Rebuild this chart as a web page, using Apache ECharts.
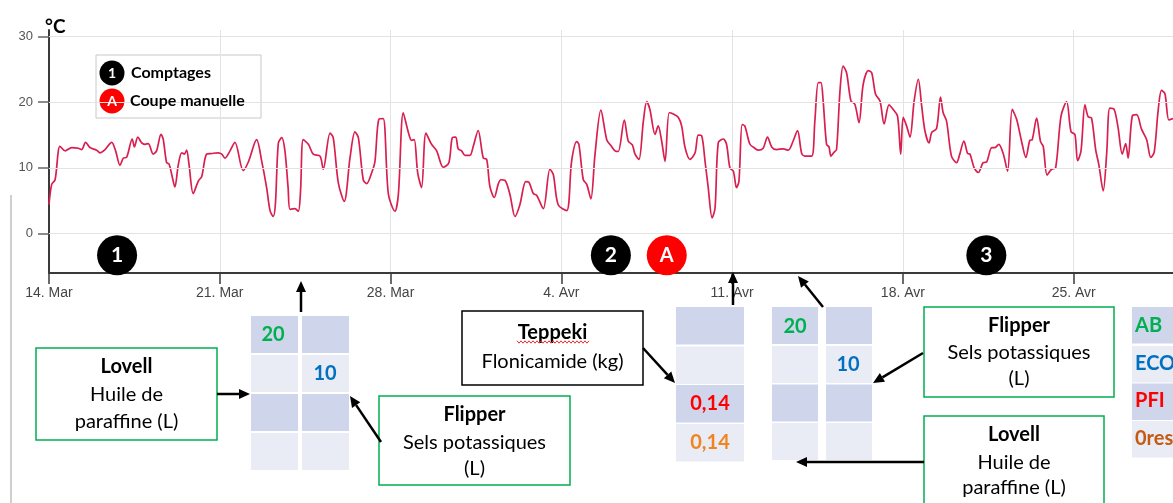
<!DOCTYPE html>
<html style="height: 100%">
<head>
<meta charset="utf-8">
</head>
<body style="height: 100%; width: 100%; margin: 0; background: #fff">
<div id="container" style="height: 503px; width: 1173px;"></div>
<script src="https://cdn.jsdelivr.net/npm/echarts@6/dist/echarts.min.js"></script>
<script type="text/javascript">
// jours depuis le 14 mars
var days = [
	0, 0.11, 0.25, 0.45, 0.66, 0.93, 1.20, 1.34, 1.50, 1.68, 1.95, 2.09, 2.30, 2.57, 2.73, 2.91, 3.05, 3.18, 3.41, 3.50, 3.64, 3.80, 3.93, 4.07, 4.27, 4.41, 4.59, 4.68, 4.82, 4.92, 5.03, 5.16, 5.30, 5.44, 5.55, 5.64, 5.74, 5.91, 6.12, 6.26, 6.46, 6.67, 6.94, 7.08, 7.21, 7.42, 7.62,
	7.96, 8.17, 8.51, 8.72, 8.92, 9.06, 9.19, 9.28, 9.40, 9.54, 9.67, 9.80, 9.88, 10.08, 10.22, 10.31, 10.42, 10.63, 10.83, 11.11, 11.24, 11.52, 11.65, 11.86, 12.10, 12.34, 12.54, 12.68, 12.88, 13.02, 13.23, 13.36, 13.52, 13.70, 13.91, 14.18, 14.32, 14.52, 14.73, 14.86, 14.97, 15.11, 15.27,
	15.45, 15.68, 15.89, 16.16, 16.39, 16.53, 16.67, 16.77, 16.91, 17.05, 17.25, 17.39, 17.59, 17.80, 17.94, 18.07, 18.25, 18.41, 18.52, 18.69, 18.89, 19.10, 19.30, 19.54, 19.67, 19.85, 19.99, 20.26, 20.53, 20.67, 20.87, 21.22, 21.42, 21.63, 21.72, 21.90, 22.04, 22.21, 22.38, 22.62, 22.86, 23.03, 23.20,
	23.33, 23.58, 23.74, 23.91, 24.02, 24.18, 24.36, 24.50, 24.63, 24.84, 24.97, 25.11, 25.25, 25.42, 25.59, 25.79, 25.93, 26.07, 26.27, 26.48, 26.61, 26.75, 26.89, 27.02, 27.18, 27.30, 27.43, 27.64, 27.77, 27.91, 28.05, 28.18, 28.28, 28.41, 28.52, 28.73, 28.93, 29.07, 29.27, 29.45, 29.62, 29.82, 30.09, 30.30, 30.50, 30.68, 30.85, 30.98,
	31.26, 31.39, 31.53, 31.64, 31.73, 31.87, 31.97, 32.05, 32.18, 32.28, 32.42, 32.55, 32.69, 32.87, 33.03, 33.20, 33.37, 33.58, 33.72, 33.88, 34.06, 34.23, 34.43, 34.60, 34.78, 34.91, 35.01, 35.15, 35.29, 35.46, 35.63, 35.77, 35.90, 36.07, 36.18, 36.38, 36.54, 36.65, 36.79, 36.99, 37.20, 37.33, 37.50, 37.65, 37.75, 37.92, 38.09, 38.29, 38.43, 38.64, 38.77,
	38.93, 39.11, 39.29, 39.48, 39.66, 39.86, 40.04, 40.20, 40.30, 40.48, 40.64, 40.75, 40.91, 41.09, 41.26, 41.48, 41.71, 41.89, 42.05, 42.16, 42.30, 42.46, 42.59, 42.73, 42.90, 43.03, 43.21, 43.35, 43.48, 43.66, 43.82, 43.99, 44.13, 44.23, 44.40, 44.58, 44.78, 44.99, 45.16, 45.30, 45.46, 45.60, 45.74, 45.90, 46.07
];
// température °C
var temps = [
	4.4, 7.5, 8.2, 13.3, 12.6, 13.1, 13.0, 12.8, 13.9, 13.1, 12.7, 12.3, 12.8, 13.9, 12.6, 10.4, 11.5, 11.6, 14.4, 13.2, 14.7, 13.8, 13.6, 13.7, 12.1, 12.6, 15.1, 14.4, 10.8, 10.6, 9.0, 7.1, 10.5, 12.3, 12.1, 12.7, 10.5, 6.1, 8.0, 8.7, 12.1, 12.2, 12.3, 12.1, 11.5, 12.6, 13.9,
	9.6, 10.9, 14.3, 11.0, 7.0, 3.5, 2.6, 4.5, 13.8, 14.6, 12.6, 7.0, 3.7, 3.8, 3.4, 6.5, 14.3, 13.6, 12.1, 11.8, 9.8, 15.3, 14.6, 7.7, 4.9, 11.6, 15.5, 14.6, 8.2, 7.6, 9.3, 11.0, 17.4, 17.5, 6.0, 3.4, 6.0, 18.4, 15.4, 14.2, 14.3, 9.3, 7.0,
	15.3, 13.6, 12.6, 10.1, 10.8, 14.6, 14.7, 12.9, 12.6, 11.9, 11.9, 13.3, 15.7, 11.5, 11.3, 7.2, 5.5, 7.5, 8.2, 8.1, 6.0, 2.6, 4.4, 7.9, 7.8, 6.1, 5.8, 3.8, 9.8, 9.0, 4.4, 3.5, 11.0, 14.0, 13.6, 8.2, 7.5, 5.3, 12.1, 18.8, 14.3, 13.4, 12.6,
	12.5, 17.3, 14.1, 13.5, 12.1, 11.3, 17.1, 20.1, 18.9, 15.1, 16.4, 14.1, 11.0, 18.4, 18.2, 17.7, 16.4, 13.1, 11.3, 12.3, 15.0, 14.9, 11.0, 7.0, 2.4, 3.9, 13.8, 14.4, 13.6, 10.0, 9.5, 7.0, 8.0, 16.6, 16.4, 13.6, 13.0, 12.7, 13.0, 14.7, 13.2, 12.8, 12.9, 12.7, 14.1, 15.7, 12.2, 11.8,
	11.8, 17.1, 23.0, 23.0, 20.2, 13.6, 13.2, 11.8, 12.4, 12.8, 21.7, 25.5, 24.5, 20.2, 19.7, 16.9, 22.7, 24.8, 24.5, 21.2, 20.2, 16.7, 19.6, 18.9, 17.9, 12.1, 17.7, 16.4, 14.7, 20.2, 23.5, 19.4, 15.7, 13.8, 15.4, 16.0, 20.8, 18.4, 17.1, 11.8, 10.8, 12.1, 14.1, 12.2, 12.1, 10.0, 9.3, 10.8, 10.9, 13.1, 13.1,
	13.6, 12.2, 9.5, 18.9, 17.4, 14.1, 11.6, 14.2, 14.3, 17.6, 14.0, 13.3, 8.9, 9.8, 10.0, 17.9, 20.1, 15.5, 15.1, 11.1, 12.6, 19.6, 17.8, 17.6, 12.8, 10.5, 6.5, 12.1, 19.1, 18.9, 16.1, 12.1, 13.7, 11.5, 17.9, 18.1, 15.9, 14.3, 11.6, 12.4, 18.7, 21.8, 21.3, 17.3, 17.5
];
var tickLabels = ['14. Mar', '21. Mar', '28. Mar', '4. Avr', '11. Avr', '18. Avr', '25. Avr'];
var yTicks = [0, 10, 20, 30];
// comptages (cercles noirs) et coupe manuelle (cercle rouge)
var countDays = [2.79, 23.03, 38.42];
var countLabels = ['1', '2', '3'];
var cutDays = [25.32];
var cutLabels = ['A'];
var markerLevel = -3.3;

var dom = document.getElementById("container");
var myChart = echarts.init(dom);
var font = 'Lato, "Open Sans", sans-serif';
var green = '#00b050', blue = '#0070c0', red = '#ff0000', orange = '#f0841e', brown = '#c55a11';
var dark = '#cfd5ea', light = '#e9ebf5';
var graphics = [];

function text(x, y, str, size, color, bold, align) {
	graphics.push({
		type: 'text', x: x, y: y, z: 10,
		style: {
			text: str, fill: color || '#000', align: align || 'center', verticalAlign: 'middle',
			font: (bold ? 'bold ' : '') + size + 'px ' + font
		}
	});
}
function box(x, y, w, h, stroke, lines) {
	graphics.push({
		type: 'rect', shape: { x: x, y: y, width: w, height: h },
		style: { fill: '#fff', stroke: stroke, lineWidth: 1.5 }
	});
	for (var i = 0; i < lines.length; i++) {
		text(x + w / 2, lines[i][1], lines[i][0], 20, '#000', i == 0);
	}
}
function arrow(x1, y1, x2, y2) {
	var a = Math.atan2(y2 - y1, x2 - x1), len = 11, half = 5;
	var bx = x2 - len * Math.cos(a), by = y2 - len * Math.sin(a);
	graphics.push({ type: 'line', z: 11, shape: { x1: x1, y1: y1, x2: bx, y2: by }, style: { stroke: '#000', lineWidth: 2.5 } });
	graphics.push({
		type: 'polygon', z: 11,
		shape: { points: [[x2, y2], [bx + half * Math.sin(a), by - half * Math.cos(a)], [bx - half * Math.sin(a), by + half * Math.cos(a)]] },
		style: { fill: '#000' }
	});
}
function table(cols, w, rows, h) {
	for (var c = 0; c < cols.length; c++) {
		for (var r = 0; r < rows.length; r++) {
			graphics.push({
				type: 'rect', shape: { x: cols[c], y: rows[r], width: w, height: h },
				style: { fill: r % 2 == 0 ? dark : light }
			});
		}
	}
}

// cadre gauche
graphics.push({ type: 'line', shape: { x1: 11, y1: 195, x2: 11, y2: 503 }, style: { stroke: '#cfcfcf', lineWidth: 2 } });
// unité
text(45, 27, '°C', 19, '#000', true, 'left');

// légende
graphics.push({ type: 'rect', shape: { x: 96, y: 55, width: 165, height: 63 }, style: { fill: '#fff', stroke: '#c8c8c8', lineWidth: 1 } });
graphics.push({ type: 'circle', shape: { cx: 112, cy: 73, r: 12.5 }, style: { fill: '#000' } });
text(112, 73, '1', 14, '#fff', true);
text(131, 73, 'Comptages', 16, '#000', true, 'left');
graphics.push({ type: 'circle', shape: { cx: 112, cy: 101, r: 12.5 }, style: { fill: red } });
text(112, 101, 'A', 14, '#fff', true);
text(130, 101, 'Coupe manuelle', 16, '#000', true, 'left');

// tableau 1
table([251, 302], 47, [316, 355, 394, 433], 37);
text(273, 335, '20', 20, green, true);
text(325, 374, '10', 20, blue, true);
box(36, 348, 181, 92, green, [['Lovell', 367], ['Huile de', 395], ['paraffine (L)', 422]]);
box(379, 396, 191, 89, green, [['Flipper', 415], ['Sels potassiques', 443], ['(L)', 469]]);
arrow(301, 312, 301, 281);
arrow(217, 394, 250, 394);
arrow(381, 442, 350, 396);

// tableau 2
table([676], 68, [307, 346.5, 385, 424], 37.5);
text(710, 404, '0,14', 20, red, true);
text(710, 443, '0,14', 20, orange, true);
box(462, 311, 181, 74, '#000', [['Teppeki', 333], ['Flonicamide (kg)', 362]]);
var squiggle = [];
for (var sx = 517; sx <= 589; sx += 2) squiggle.push([sx, 342 + ((sx - 517) % 4 == 0 ? -1.2 : 1.2)]);
graphics.push({ type: 'polyline', z: 12, shape: { points: squiggle }, style: { stroke: '#e03030', lineWidth: 1 } });
arrow(643, 348, 675, 383);
arrow(733, 305, 733, 272);

// tableau 3
table([772, 826], 46, [307, 346, 384.5, 423], 37);
text(795, 327, '20', 20, green, true);
text(848, 365, '10', 20, blue, true);
box(924, 307, 190, 90, green, [['Flipper', 326], ['Sels potassiques', 353], ['(L)', 379]]);
box(924, 416, 180, 100, green, [['Lovell', 435], ['Huile de', 463], ['paraffine (L)', 488]]);
arrow(823, 307, 798, 276);
arrow(923, 353, 873, 383);
arrow(924, 462, 796, 462);

// légende des modes
table([1132], 60, [307, 346, 383.5, 421], 36.5);
text(1135, 326, 'AB', 20, green, true, 'left');
text(1135, 364, 'ECO', 20, blue, true, 'left');
text(1135, 401, 'PFI', 20, red, true, 'left');
text(1135, 439, '0res', 20, brown, true, 'left');

var lineData = [];
for (var i = 0; i < days.length; i++) lineData.push([days[i], temps[i]]);
var countData = [], cutData = [];
for (var i = 0; i < countDays.length; i++) countData.push({ value: [countDays[i], markerLevel], label: { formatter: countLabels[i] } });
for (var i = 0; i < cutDays.length; i++) cutData.push({ value: [cutDays[i], markerLevel], label: { formatter: cutLabels[i] } });
var gridLines = [];
for (var i = 0; i < yTicks.length; i++) gridLines.push({ yAxis: yTicks[i] });

option = {
	animation: false,
	backgroundColor: '#fff',
	grid: { left: 49, right: 0, top: 30, bottom: 230, containLabel: false },
	xAxis: {
		type: 'value', min: 0, max: 46.07, interval: 7,
		axisLine: { show: true, onZero: false, lineStyle: { color: '#3a3a3a', width: 2 } },
		axisTick: { show: true, inside: false, length: 11, lineStyle: { color: '#3a3a3a', width: 1.5 } },
		axisLabel: {
			show: true, margin: 13, showMaxLabel: false, color: '#444', fontSize: 14, fontFamily: '"Liberation Sans", Arial, sans-serif',
			formatter: function (v) { return tickLabels[Math.round(v / 7)] || ''; }
		},
		splitLine: { show: true, lineStyle: { color: '#e3e3e3', width: 1 } }
	},
	yAxis: {
		type: 'value', min: -6, max: 31,
		axisLine: { show: true, onZero: false, lineStyle: { color: '#3a3a3a', width: 2 } },
		axisTick: { show: true, length: 11, customValues: yTicks, lineStyle: { color: '#666', width: 1.5 } },
		axisLabel: { show: true, margin: 16, customValues: yTicks, color: '#555', fontSize: 13, fontFamily: '"Liberation Sans", Arial, sans-serif' },
		splitLine: { show: false }
	},
	graphic: graphics,
	series: [{
		type: 'line', data: [], z: 1, silent: true,
		markLine: {
			silent: true, symbol: 'none', animation: false, label: { show: false },
			lineStyle: { color: '#e3e3e3', width: 1, type: 'solid' },
			data: gridLines
		}
	}, {
		type: 'line', data: lineData, z: 3,
		smooth: 0.3, showSymbol: false,
		lineStyle: { color: '#d81f4f', width: 1.7 }
	}, {
		type: 'scatter', data: countData, z: 4, symbolSize: 40,
		itemStyle: { color: '#000', opacity: 1 },
		label: { show: true, position: 'inside', color: '#fff', fontSize: 21, fontWeight: 'bold', fontFamily: font }
	}, {
		type: 'scatter', data: cutData, z: 4, symbolSize: 40,
		itemStyle: { color: red, opacity: 1 },
		label: { show: true, position: 'inside', color: '#fff', fontSize: 20, fontWeight: 'bold', fontFamily: font }
	}]
};

if (option && typeof option === 'object') {
	myChart.setOption(option);
}
</script>
</body>
</html>
